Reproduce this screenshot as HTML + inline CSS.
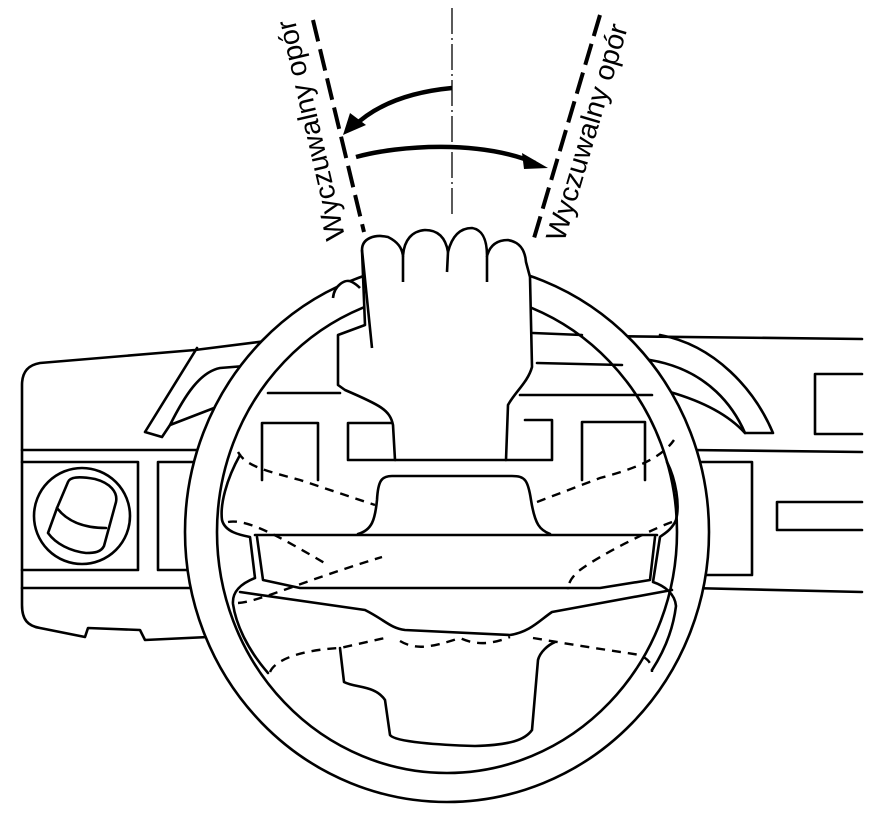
<!DOCTYPE html>
<html><head><meta charset="utf-8"><style>
html,body{margin:0;padding:0;background:#fff;}
svg{display:block;}
text{font-family:"Liberation Sans",sans-serif;font-size:28px;fill:#000;}
</style></head><body>
<svg width="872" height="824" viewBox="0 0 872 824" xmlns="http://www.w3.org/2000/svg">
<g fill="none" stroke="#000" stroke-width="2.6" stroke-linecap="round" stroke-linejoin="round">
<!-- dashboard left -->
<path d="M290,338 L195,350 L40,363 C28,365 22,372 22,385 L22,605 C22,620 28,626 40,628 L85,637 L88,628 L140,630 L145,640 L230,636"/>
<path d="M22,450 L215,450"/>
<path d="M22,462 L138,462 L138,570 L22,570"/>
<path d="M215,462 L158,462 L158,570 L215,570"/>
<path d="M22,588 L215,588"/>
<circle cx="82" cy="516" r="48"/>
<path d="M68,482 C70,477 78,476 95,479 C110,483 118,492 116,502 L104,546 C101,552 95,553 86,553 C70,551 56,544 48,533 L57,508 Z"/>
<path d="M57,508 C66,520 82,528 106,528"/>
<!-- left vent -->
<path d="M145,432 L197,348 M145,432 L162,437 L170,425 L240,398 M170,425 C185,395 200,372 220,368 L270,364"/>
<!-- dashboard right -->
<path d="M600,336 L862,339"/>
<path d="M660,335 C715,345 755,390 773,433 L745,433 C735,410 710,370 650,360"/>
<path d="M670,392 C715,405 735,422 745,433"/>
<path d="M862,374 L815,374 L815,434 L862,434"/>
<path d="M690,450 L862,452"/>
<path d="M690,462 L752,462 L752,575 L690,575"/>
<path d="M862,502 L777,502 L777,530 L862,530"/>
<path d="M690,588 L862,592"/>
</g>
<!-- wheel mask -->
<ellipse cx="447" cy="532" rx="262" ry="270" fill="#fff" stroke="#000" stroke-width="2.6"/>
<g fill="none" stroke="#000" stroke-width="2.6" stroke-linecap="round" stroke-linejoin="round">
<ellipse cx="447" cy="532" rx="230" ry="241"/>
<path d="M268,393 L340,393"/>
<path d="M533,333 L582,335 M537,363 L622,365 M520,395 L652,395"/>
<path d="M262,480 L262,423 L318,423 L318,480"/>
<path d="M395,460 L348,460 L348,423 L393,423"/>
<path d="M506,460 L552,460 L552,420 L525,420"/>
<path d="M582,480 L582,422 L645,422 L645,480"/>
<!-- hub -->
<path d="M358,534 C372,530 375,520 377,500 C378,480 382,476 392,476 L512,476 C525,476 528,480 531,500 C535,525 540,530 550,534"/>
<path d="M255,535 L657,535"/>
<path d="M240,455 C226,480 220,505 222,520 C225,532 240,535 250,537 L255,578 C240,584 232,592 233,604 C236,625 248,650 268,673"/>
<path d="M257,537 L263,580 L300,588 L600,588 L650,580 L655,537"/>
<path d="M667,462 C676,480 680,505 676,520 C672,530 662,535 660,537 L653,582 C665,586 675,594 676,606 C673,630 665,650 652,670"/>
<path d="M240,592 L365,610 C385,620 390,628 405,630 L510,635 C530,632 540,620 552,612 L672,590"/>
<path d="M340,648 L344,682 C355,688 375,685 385,700 L390,735 C395,742 440,745 475,746 C510,745 525,740 532,730 L538,660 C540,652 548,645 555,642"/>
</g>
<g fill="none" stroke="#000" stroke-width="2.4" stroke-dasharray="9,7">
<path d="M238,452 C245,465 262,470 300,480 L375,505"/>
<path d="M537,502 L600,478 C630,470 660,460 674,440"/>
<path d="M228,522 C248,518 285,540 328,565"/>
<path d="M238,603 C258,602 300,582 382,557"/>
<path d="M672,522 C650,530 600,555 580,570 C570,578 568,585 568,590"/>
<path d="M270,672 C275,660 300,650 340,648 L385,638"/>
<path d="M400,641 C415,650 430,648 460,638 C475,645 490,645 510,637"/>
<path d="M533,638 L575,645 L640,655 C650,660 652,665 652,672"/>
</g>
<!-- hand -->
<path d="M362,250 C362,238 375,234 388,237 C398,242 402,248 403,256 C404,240 412,231 425,230 C440,230 446,240 448,252 C452,236 460,228 472,228 C484,230 487,242 487,256 C490,245 497,240 508,240 C520,242 525,250 526,262 L530,277 L532,367 C528,382 515,392 508,405 L506,460 L395,460 L393,425 C390,410 380,405 345,390 L338,385 L338,335 L365,325 Z" fill="#fff" stroke="#000" stroke-width="2.6" stroke-linejoin="round"/>
<path d="M362,250 L372,348 M403,256 L403,282 M448,252 L447,272 M487,256 L487,282" fill="none" stroke="#000" stroke-width="2.6"/>
<path d="M333,298 C334,286 345,278 352,282 C356,284 358,286 360,288" fill="#fff" stroke="#000" stroke-width="2.6"/>
<!-- top: resistance lines -->
<g fill="none" stroke="#000">
<path d="M313,20 L364,232" stroke-width="4" stroke-dasharray="22,8"/>
<path d="M600,15 L532,245" stroke-width="4" stroke-dasharray="22,8"/>
<path d="M452,8 L452,218" stroke-width="1.3" stroke-dasharray="26,4,2,4"/>
<path d="M452,88 C410,92 375,105 352,128" stroke-width="4.5"/>
<path d="M356,157 C400,145 480,140 535,163" stroke-width="4.5"/>
</g>
<polygon points="343,135 350,113 366,125" fill="#000"/>
<polygon points="548,168 522,153 524,169" fill="#000"/>
<text transform="translate(320,128) rotate(-103)" text-anchor="middle" textLength="225" lengthAdjust="spacingAndGlyphs">Wyczuwalny opór</text>
<text transform="translate(596,135) rotate(-73.5)" text-anchor="middle" textLength="225" lengthAdjust="spacingAndGlyphs">Wyczuwalny opór</text>
</svg>
</body></html>
